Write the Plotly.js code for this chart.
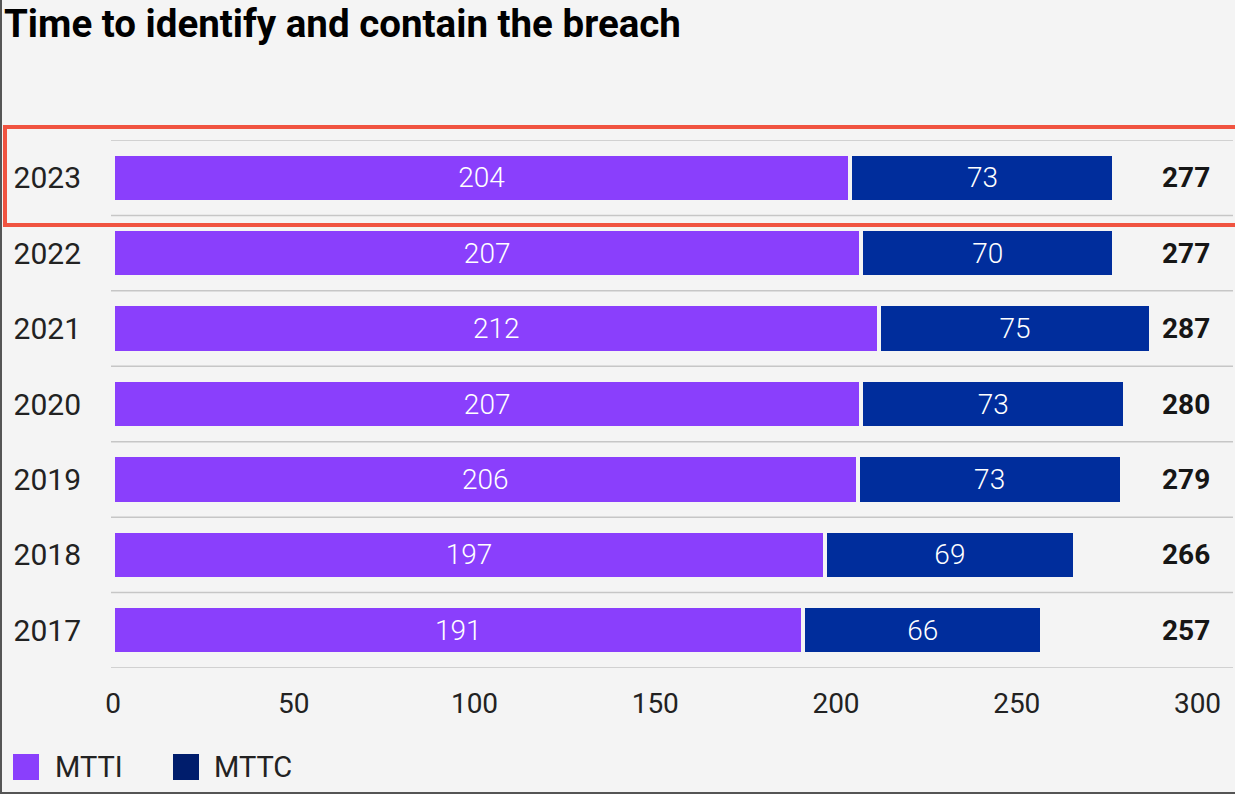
<!DOCTYPE html>
<html>
<head>
<meta charset="utf-8">
<script src="https://cdn.plot.ly/plotly-3.0.1.min.js"></script>
<style>
  html, body { margin: 0; padding: 0; background: #f4f4f4; }
  #chart { width: 1235px; height: 794px; }
</style>
</head>
<body>
<div id="chart"></div>
<script>
const years = ['2023', '2022', '2021', '2020', '2019', '2018', '2017'];
const mtti = [204, 207, 212, 207, 206, 197, 191];
const mttc = [73, 70, 75, 73, 73, 69, 66];
const totals = [277, 277, 287, 280, 279, 266, 257];
const seriesNames = ['MTTI', 'MTTC'];
const seriesColors = ['#8a3ffc', '#002d9c'];
const legendColors = ['#8a3ffc', '#001d6c'];
const xTicks = [0, 50, 100, 150, 200, 250, 300];

const FONT = 'Roboto, "Open Sans", sans-serif';
const BG = '#f4f4f4';
const rowPos = years.map((_, i) => i);

function barTrace(vals, i) {
  return {
    type: 'bar',
    orientation: 'h',
    name: seriesNames[i],
    y: rowPos,
    x: vals,
    text: vals.map(String),
    textposition: 'inside',
    insidetextanchor: 'middle',
    textfont: { family: FONT, size: 28, color: '#ffffff', weight: 300 },
    marker: { color: seriesColors[i], line: { color: BG, width: 4 } },
    width: 0.64,
    hoverinfo: 'x+name'
  };
}

const data = [barTrace(mtti, 0), barTrace(mttc, 1)];

const annotations = totals.map((t, i) => ({
  x: 296.7, y: rowPos[i], xref: 'x', yref: 'y',
  text: '<b>' + t + '</b>', showarrow: false,
  xanchor: 'center', yanchor: 'middle',
  font: { family: FONT, size: 28, color: '#161616' }
}));

const W = 1235, H = 794, L = 113, R = 2, T = 140, B = 126;
const pw = W - L - R, ph = H - T - B;
const px = x => (x - L) / pw;
const py = y => (H - B - y) / ph;
const shapes = [];

// row separator lines
for (let i = 0; i <= years.length; i++) {
  shapes.push({
    type: 'line', xref: 'paper', yref: 'y', x0: -2 / pw, x1: 1,
    y0: i - 0.5, y1: i - 0.5, line: { color: '#c6c6c6', width: 1.5 }, layer: 'below'
  });
}

// custom legend
const legX = [13, 173];
const legTX = [55, 214];
seriesNames.forEach((n, i) => {
  shapes.push({
    type: 'rect', xref: 'paper', yref: 'paper',
    x0: px(legX[i]), x1: px(legX[i] + 26), y0: py(780), y1: py(754),
    fillcolor: legendColors[i], line: { width: 0 }
  });
  annotations.push({
    xref: 'paper', yref: 'paper', x: px(legTX[i] - 2), y: py(767),
    xanchor: 'left', yanchor: 'middle', showarrow: false,
    text: n, font: { family: FONT, size: 29, color: '#222222' }
  });
});

// highlight box around 2023
shapes.push({
  type: 'rect', xref: 'paper', yref: 'paper',
  x0: px(5), x1: px(1240), y0: py(225), y1: py(127),
  line: { color: '#f05340', width: 4 }, fillcolor: 'rgba(0,0,0,0)'
});
// frame border (left and bottom)
shapes.push({ type: 'line', xref: 'paper', yref: 'paper', x0: px(1), x1: px(1), y0: py(0), y1: py(793), line: { color: '#555555', width: 2 } });
shapes.push({ type: 'line', xref: 'paper', yref: 'paper', x0: px(0), x1: px(1235), y0: py(793), y1: py(793), line: { color: '#555555', width: 2 } });

const layout = {
  width: W, height: H,
  paper_bgcolor: BG, plot_bgcolor: BG,
  margin: { l: L, r: R, t: T, b: B, pad: 0 },
  barmode: 'stack',
  showlegend: false,
  font: { family: FONT, size: 28, color: '#222222' },
  title: {
    text: '<b>Time to identify and contain the breach</b>',
    x: 4 / W, xanchor: 'left', xref: 'container',
    y: 1 - 24 / H, yanchor: 'middle', yref: 'container',
    font: { family: FONT, size: 38.5, color: '#000000' }
  },
  xaxis: {
    range: [0, pw / 3.615],
    tickvals: xTicks,
    ticktext: xTicks.map(String),
    showgrid: false, zeroline: false, showline: false,
    ticks: '', ticklabelstandoff: 16,
    tickfont: { family: FONT, size: 28, color: '#222222' },
    fixedrange: true
  },
  yaxis: {
    range: [years.length - 0.5, -0.5],
    tickvals: rowPos,
    ticktext: years,
    showgrid: false, zeroline: false, showline: false, ticks: '',
    ticklabelstandoff: 31,
    tickfont: { family: FONT, size: 30, color: '#222222' },
    fixedrange: true
  },
  shapes: shapes,
  annotations: annotations
};

Plotly.newPlot('chart', data, layout, { displayModeBar: false, staticPlot: true });
</script>
</body>
</html>
